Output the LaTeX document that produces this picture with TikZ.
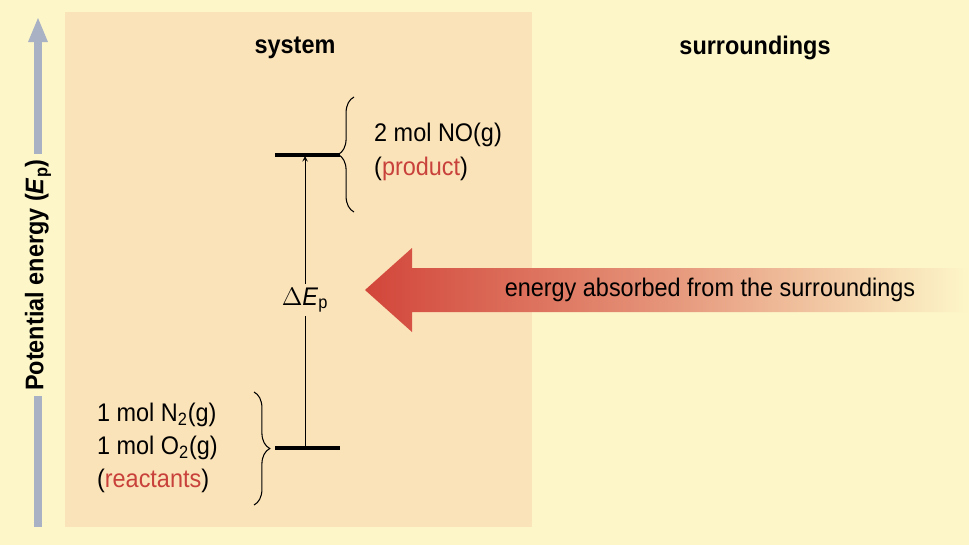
\documentclass[tikz,border=0pt]{standalone}
\usepackage{fontspec}
\setmainfont{Liberation Sans}[FakeStretch=0.92]
\usetikzlibrary{decorations.pathreplacing,shadings}
\definecolor{bgyellow}{HTML}{FDF6C9}
\definecolor{syspeach}{HTML}{FBE3B9}
\definecolor{axisgray}{HTML}{A9B2C4}
\definecolor{prodred}{HTML}{C8413A}
\definecolor{arrred}{HTML}{D2463A}
\begin{document}
\begin{tikzpicture}[x=0.02cm,y=-0.02cm,font=\fontsize{14.5}{19}\selectfont,
  level/.style={line width=1.8pt},
  brace/.style={decorate,decoration={brace,amplitude=9pt},semithick},
  head/.style={font=\bfseries\fontsize{14.5}{18}\selectfont}]
\useasboundingbox (0,0) rectangle (969,545);
\fill[bgyellow] (0,0) rectangle (969,545);
\fill[syspeach] (65,12) rectangle (532,527);
% energy axis
\fill[axisgray] (34,527) rectangle (42,40);
\fill[axisgray] (28,42) -- (38,18) -- (48,42) -- cycle;
\node[rotate=90,fill=bgyellow,head,inner sep=3pt] (axis) at (38,275) {Potential energy (\textit{E}\textsubscript{p})};
\node[head] (sys) at (295,48) {system};
\node[head] (sur) at (755,48) {surroundings};
% levels
\coordinate (p1) at (275,155); \coordinate (p2) at (340,155);
\coordinate (r1) at (275,448); \coordinate (r2) at (340,448);
\draw[level] (p1) -- (p2);
\draw[level] (r1) -- (r2);
\coordinate (rm) at (305,448); \coordinate (pm) at (305,156);
\draw[->,>=stealth] (rm) -- (pm);
\node[fill=syspeach,inner sep=2pt] (dE) at (305,300) {$\Delta$\textit{E}\textsubscript{p}};
% braces
\draw[brace] (354,212) -- (354,97);
\node[anchor=west,align=left] (prod) at (368,152) {2 mol NO(g)\\(\textcolor{prodred}{product})};
\draw[brace] (254,392) -- (254,505);
\node[anchor=east,align=left] (reac) at (224,448) {1 mol N\textsubscript{2}(g)\\1 mol O\textsubscript{2}(g)\\(\textcolor{prodred}{reactants})};
% energy arrow
\shade[left color=arrred,right color=bgyellow,middle color=arrred!55!bgyellow,shading angle=90]
  (365,290) -- (412,248) -- (412,268) -- (969,268) -- (969,312) -- (412,312) -- (412,332) -- cycle;
\node (en) at (710,290) {energy absorbed from the surroundings};
\end{tikzpicture}
\end{document}
